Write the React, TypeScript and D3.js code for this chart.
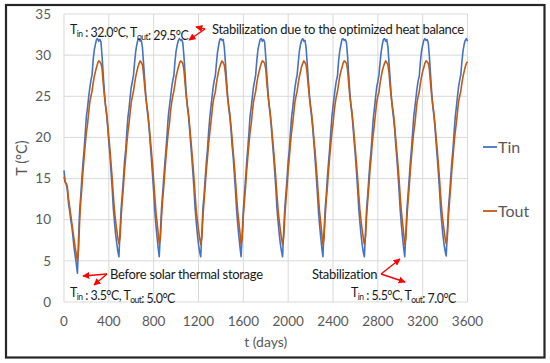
import * as d3 from "d3"

// sampled every 10 days, 0 … 3600
const step = 10
const days = d3.range(0, 3601, step)

const tin = [
  // 0–120
  16.0, 14.6, 14.3, 13.6, 12.0, 11.1, 10.0, 9.2, 7.9, 6.6, 5.6, 4.6, 3.5,
  // 130–490
  7.8, 11.2, 13.0, 15.2, 17.0, 18.6, 20.6, 22.6, 23.6, 24.9,
  26.0, 26.9, 27.6, 29.4, 30.6, 31.3, 31.9, 32.0, 31.7, 31.9,
  31.6, 29.8, 27.6, 25.6, 23.9, 22.8, 21.2, 19.4, 17.8, 15.8,
  13.8, 11.4, 9.8, 8.3, 7.2, 6.2, 5.5,
  // 500–850
  8.6, 11.4, 13.1, 15.0, 17.1, 18.4, 20.5, 22.4, 23.5, 24.9,
  26.1, 26.8, 27.6, 29.1, 30.5, 31.3, 31.9, 32.0, 31.7, 31.8,
  30.9, 29.0, 27.0, 25.1, 23.6, 22.4, 21.0, 19.1, 17.4, 15.4,
  13.4, 11.1, 9.4, 7.9, 6.6, 5.5,
  // 860–1220
  8.4, 11.3, 13.2, 15.1, 16.9, 18.6, 20.4, 22.5, 23.7, 24.8,
  26.0, 26.9, 27.5, 29.2, 30.5, 31.2, 31.8, 32.0, 31.8, 31.9,
  31.5, 29.9, 27.7, 25.5, 23.8, 22.7, 21.1, 19.3, 17.6, 15.7,
  13.7, 11.3, 9.7, 8.2, 7.0, 6.1, 5.5,
  // 1230–1580
  8.5, 11.5, 13.0, 15.1, 17.0, 18.5, 20.6, 22.3, 23.6, 24.8,
  26.0, 26.9, 27.5, 29.0, 30.4, 31.2, 31.9, 32.0, 31.8, 31.9,
  31.0, 29.1, 27.1, 25.0, 23.5, 22.5, 20.9, 19.0, 17.5, 15.5,
  13.5, 11.2, 9.5, 8.0, 6.7, 5.5,
  // 1590–1950
  8.3, 11.2, 13.1, 15.0, 17.0, 18.7, 20.5, 22.6, 23.6, 24.9,
  26.1, 26.8, 27.6, 29.3, 30.6, 31.3, 31.9, 32.0, 31.7, 31.9,
  31.6, 29.8, 27.5, 25.6, 23.9, 22.7, 21.2, 19.4, 17.7, 15.8,
  13.8, 11.4, 9.8, 8.3, 7.1, 6.2, 5.5,
  // 1960–2310
  8.6, 11.4, 13.2, 15.0, 17.1, 18.5, 20.5, 22.4, 23.5, 24.8,
  26.0, 26.9, 27.6, 29.1, 30.5, 31.3, 31.8, 32.0, 31.7, 31.8,
  30.9, 29.0, 27.0, 25.1, 23.6, 22.4, 21.0, 19.2, 17.4, 15.4,
  13.4, 11.1, 9.4, 7.9, 6.6, 5.5,
  // 2320–2680
  8.4, 11.3, 13.0, 15.2, 16.9, 18.6, 20.6, 22.5, 23.7, 24.9,
  26.0, 26.9, 27.5, 29.3, 30.5, 31.2, 31.9, 32.0, 31.8, 31.9,
  31.5, 29.9, 27.6, 25.5, 23.9, 22.7, 21.1, 19.3, 17.7, 15.7,
  13.7, 11.3, 9.7, 8.2, 7.0, 6.1, 5.5,
  // 2690–3040
  8.5, 11.4, 13.1, 15.1, 17.0, 18.4, 20.5, 22.4, 23.6, 24.9,
  26.1, 26.8, 27.6, 29.1, 30.4, 31.3, 31.9, 32.0, 31.7, 31.9,
  31.0, 29.0, 27.1, 25.1, 23.5, 22.4, 21.0, 19.1, 17.4, 15.5,
  13.4, 11.1, 9.4, 7.9, 6.6, 5.5,
  // 3050–3410
  8.4, 11.3, 13.2, 15.0, 17.0, 18.6, 20.5, 22.5, 23.6, 24.8,
  26.0, 26.9, 27.5, 29.2, 30.5, 31.2, 31.8, 32.0, 31.8, 31.9,
  31.5, 29.8, 27.7, 25.6, 23.8, 22.7, 21.2, 19.3, 17.6, 15.7,
  13.7, 11.3, 9.7, 8.2, 7.1, 6.2, 5.6,
  // 3420–3600
  8.5, 11.4, 13.1, 15.1, 17.0, 18.5, 20.5, 22.4, 23.6, 24.9,
  26.1, 26.9, 27.6, 29.2, 30.5, 31.3, 31.8, 32.0, 31.7,
]

const tout = [
  // 0–120
  15.2, 14.6, 14.4, 14.0, 12.6, 11.6, 10.6, 9.6, 8.6, 7.6, 6.6, 5.8, 5.0,
  // 130–490
  6.4, 10.0, 12.3, 14.0, 16.0, 17.6, 19.2, 20.6, 21.6, 23.0,
  24.3, 25.0, 25.6, 26.6, 27.4, 28.0, 28.5, 29.0, 29.3, 29.2,
  29.0, 28.3, 26.6, 25.1, 24.0, 23.0, 21.6, 20.0, 18.5, 16.8,
  15.0, 13.0, 11.2, 9.9, 8.8, 7.8, 7.1,
  // 500–850
  7.9, 10.4, 12.3, 14.0, 16.0, 17.5, 19.2, 20.6, 21.7, 23.0,
  24.3, 25.0, 25.6, 26.6, 27.4, 28.0, 28.6, 29.0, 29.3, 29.1,
  28.8, 27.7, 26.2, 24.8, 23.8, 22.8, 21.4, 19.8, 18.3, 16.6,
  14.8, 12.8, 11.0, 9.7, 8.4, 7.1,
  // 860–1220
  7.8, 10.3, 12.4, 14.0, 15.9, 17.6, 19.1, 20.6, 21.6, 23.1,
  24.2, 25.0, 25.6, 26.5, 27.4, 28.0, 28.5, 29.0, 29.3, 29.2,
  29.0, 28.2, 26.6, 25.0, 24.0, 23.0, 21.6, 20.0, 18.4, 16.8,
  15.0, 13.0, 11.2, 9.9, 8.8, 7.8, 7.0,
  // 1230–1580
  7.9, 10.5, 12.3, 14.1, 16.0, 17.5, 19.2, 20.5, 21.7, 23.0,
  24.3, 25.0, 25.5, 26.6, 27.4, 28.1, 28.6, 29.0, 29.3, 29.1,
  28.8, 27.8, 26.2, 24.8, 23.8, 22.8, 21.4, 19.8, 18.2, 16.6,
  14.8, 12.8, 11.0, 9.7, 8.4, 7.0,
  // 1590–1950
  7.8, 10.4, 12.3, 14.0, 16.0, 17.6, 19.2, 20.6, 21.6, 23.0,
  24.3, 25.0, 25.6, 26.6, 27.4, 28.0, 28.5, 29.0, 29.3, 29.2,
  29.0, 28.3, 26.6, 25.1, 24.0, 23.0, 21.6, 20.0, 18.5, 16.8,
  15.0, 13.0, 11.2, 9.9, 8.8, 7.8, 7.0,
  // 1960–2310
  7.9, 10.4, 12.3, 14.0, 16.0, 17.5, 19.2, 20.6, 21.7, 23.0,
  24.3, 25.0, 25.6, 26.6, 27.4, 28.0, 28.6, 29.0, 29.3, 29.1,
  28.8, 27.7, 26.2, 24.8, 23.8, 22.8, 21.4, 19.8, 18.3, 16.6,
  14.8, 12.8, 11.0, 9.7, 8.4, 7.0,
  // 2320–2680
  7.8, 10.3, 12.4, 14.0, 15.9, 17.6, 19.1, 20.6, 21.6, 23.1,
  24.2, 25.0, 25.6, 26.5, 27.4, 28.0, 28.5, 29.0, 29.3, 29.2,
  29.0, 28.2, 26.6, 25.0, 24.0, 23.0, 21.6, 20.0, 18.4, 16.8,
  15.0, 13.0, 11.2, 9.9, 8.8, 7.8, 7.0,
  // 2690–3040
  7.9, 10.5, 12.3, 14.1, 16.0, 17.5, 19.2, 20.5, 21.7, 23.0,
  24.3, 25.0, 25.5, 26.6, 27.4, 28.1, 28.6, 29.0, 29.3, 29.1,
  28.8, 27.8, 26.2, 24.8, 23.8, 22.8, 21.4, 19.8, 18.2, 16.6,
  14.8, 12.8, 11.0, 9.7, 8.4, 7.0,
  // 3050–3410
  7.8, 10.4, 12.3, 14.0, 16.0, 17.6, 19.2, 20.6, 21.6, 23.0,
  24.3, 25.0, 25.6, 26.6, 27.4, 28.0, 28.5, 29.0, 29.3, 29.2,
  29.0, 28.3, 26.6, 25.1, 24.0, 23.0, 21.6, 20.0, 18.5, 16.8,
  15.0, 13.0, 11.2, 9.9, 8.8, 7.8, 7.1,
  // 3420–3600
  7.9, 10.4, 12.3, 14.0, 16.0, 17.5, 19.2, 20.6, 21.7, 23.0,
  24.3, 25.0, 25.6, 26.6, 27.4, 28.0, 28.6, 29.0, 29.2,
]

const xTicks = [0, 400, 800, 1200, 1600, 2000, 2400, 2800, 3200, 3600]
const yTicks = [0, 5, 10, 15, 20, 25, 30, 35]

const series = [
  { name: "Tin", values: tin, color: "#4472C4" },
  { name: "Tout", values: tout, color: "#C55A11" },
]

const font = "Lato, 'Open Sans', sans-serif"
const grey = "#595959"

const Sub = ({ base, sub }: { base: string; sub: string }) => (
  <>
    <tspan>{base}</tspan>
    <tspan fontSize={8.5} dy={3}>{sub}</tspan>
    <tspan dy={-3}></tspan>
  </>
)

const App = () => {
  const x = d3.scaleLinear().domain([0, 3600]).range([64, 467.5])
  const y = d3.scaleLinear().domain([0, 35]).range([302, 14])

  const line = (vals: number[]) =>
    d3
      .line<number>()
      .x((_, i) => x(days[i]))
      .y((d) => y(d))(vals) || ""

  return (
    <svg
      width={550}
      height={363}
      style={{ position: "absolute", left: 0, top: 0, background: "#fff" }}
      fontFamily={font}
    >
      <defs>
        <marker id="ah" viewBox="0 0 10 10" refX="9" refY="5" markerWidth="5" markerHeight="5" orient="auto">
          <path d="M0,0 L10,5 L0,10 z" fill="#FF0000" />
        </marker>
      </defs>
      <rect x={6} y={5} width={538.5} height={352.5} fill="#fff" stroke="#262626" strokeWidth={2.2} />

      {/* grid */}
      {yTicks.map((t) => (
        <line key={"gy" + t} x1={x(0)} x2={x(3600)} y1={y(t)} y2={y(t)} stroke="#d9d9d9" strokeWidth={1} />
      ))}
      {xTicks.map((t) => (
        <line key={"gx" + t} x1={x(t)} x2={x(t)} y1={y(0)} y2={y(35)} stroke="#d9d9d9" strokeWidth={1} />
      ))}

      {/* tick labels */}
      {yTicks.map((t) => (
        <text key={"ly" + t} x={51} y={y(t)} dy="0.35em" textAnchor="end" fontSize={13.5} fill={grey}>
          {t}
        </text>
      ))}
      {xTicks.map((t) => (
        <text key={"lx" + t} x={x(t)} y={321} dy="0.35em" textAnchor="middle" fontSize={13.5} fill={grey}>
          {t}
        </text>
      ))}
      <text x={(x(0) + x(3600)) / 2} y={342} dy="0.35em" textAnchor="middle" fontSize={14} fill={grey}>
        t (days)
      </text>
      <text transform={`translate(22,${(y(0) + y(35)) / 2}) rotate(-90)`} dy="0.35em" textAnchor="middle" fontSize={14.5} fill={grey}>
        T (°C)
      </text>

      {/* series */}
      {series.map((s) => (
        <path key={s.name} d={line(s.values)} fill="none" stroke={s.color} strokeWidth={1.6} strokeLinejoin="round" />
      ))}

      {/* legend */}
      {series.map((s, i) => (
        <g key={"lg" + s.name} transform={`translate(483,${147 + i * 64})`}>
          <line x1={0} x2={14} y1={0} y2={0} stroke={s.color} strokeWidth={1.8} />
          <text x={15} y={0} dy="0.35em" fontSize={16} fill={grey}>
            {s.name}
          </text>
        </g>
      ))}

      {/* annotations */}
      <g fontSize={13} fill="#1a1a1a" letterSpacing={-0.3}>
        <text x={70} y={33.5} fontSize={12.4} letterSpacing={-0.5}>
          <Sub base="T" sub="in" />
          <tspan> : 32.0°C, </tspan>
          <Sub base="T" sub="out" />
          <tspan>: 29.5°C</tspan>
        </text>
        <text x={212} y={33.5}>Stabilization due to the optimized heat balance</text>
        <text x={110} y={278.5}>Before solar thermal storage</text>
        <text x={70} y={296.5} fontSize={12.4} letterSpacing={-0.5}>
          <Sub base="T" sub="in" />
          <tspan> : 3.5°C, </tspan>
          <Sub base="T" sub="out" />
          <tspan>: 5.0°C</tspan>
        </text>
        <text x={312} y={279}>Stabilization</text>
        <text x={351} y={296.5} fontSize={12.4} letterSpacing={-0.5}>
          <Sub base="T" sub="in" />
          <tspan> : 5.5°C, </tspan>
          <Sub base="T" sub="out" />
          <tspan>: 7.0°C</tspan>
        </text>
      </g>

      <g stroke="#FF0000" strokeWidth={1.4} fill="none">
        <line x1={205} y1={29} x2={196} y2={27} markerEnd="url(#ah)" />
        <line x1={205} y1={29} x2={189} y2={40} markerEnd="url(#ah)" />
        <line x1={107} y1={274} x2={83} y2={276} markerEnd="url(#ah)" />
        <line x1={107} y1={274} x2={94} y2={285} markerEnd="url(#ah)" />
        <line x1={381} y1={274} x2={400} y2={259} markerEnd="url(#ah)" />
        <line x1={381} y1={274} x2={405} y2={282} markerEnd="url(#ah)" />
      </g>
    </svg>
  )
}

export default App
